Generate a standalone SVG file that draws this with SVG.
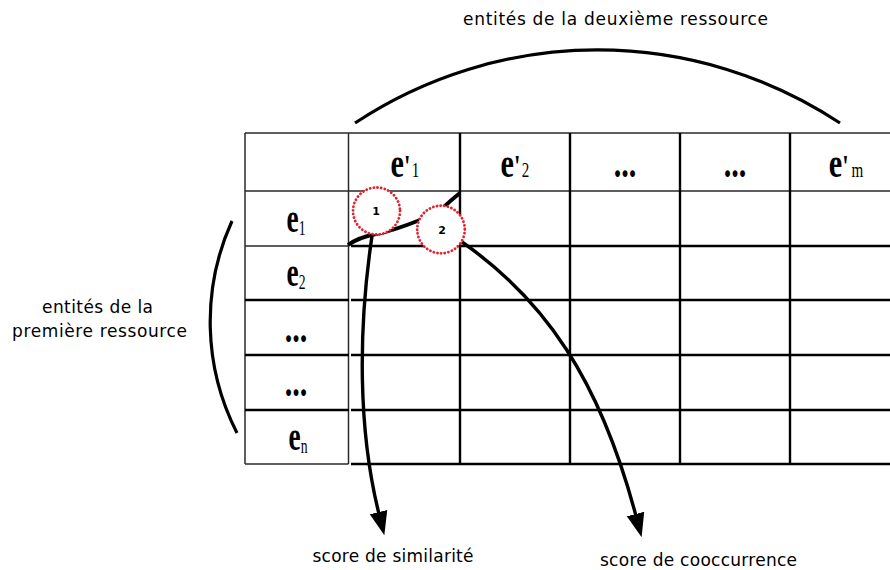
<svg xmlns="http://www.w3.org/2000/svg" width="890" height="570" viewBox="0 0 890 570">
<style>
.thin{stroke:#2a2a2a;stroke-width:1.5;fill:none}
.thick{stroke:#000;stroke-width:2.4;fill:none}
.hd{font-family:"Liberation Serif","Times New Roman",serif;font-weight:bold;font-size:42px;fill:#000;text-anchor:middle}
.sub{font-weight:normal;font-size:21px}
.lbl{font-family:"DejaVu Sans",sans-serif;font-size:17px;fill:#000;text-anchor:middle}
.brace{stroke:#000;stroke-width:3.2;fill:none}
.ring{fill:#fff;stroke:#e8202a;stroke-width:2.8;stroke-dasharray:0.1 3.6;stroke-linecap:round}
.num{font-family:"DejaVu Sans",sans-serif;font-size:11px;font-weight:bold;fill:#000;text-anchor:middle}
.arr{stroke:#000;stroke-width:3.4;fill:none}
</style>
<defs>
<marker id="ah" markerUnits="userSpaceOnUse" markerWidth="24" markerHeight="24" viewBox="0 0 24 24" refX="2" refY="12" orient="auto">
<path d="M0,3 L24,12 L0,21 Z" fill="#000"/>
</marker>
</defs>
<rect width="890" height="570" fill="#fff"/>

<g id="table">
<path class="thin" d="M245,133 H890 M245,191 H890 M245,246 H348.5 M245,464 H348.5 M245,133 V464 M348.5,133 V464"/>
<path class="thick" d="M460,133 V464 M570,133 V464 M680,133 V464 M790,133 V464 M351,246 H890 M351,300 H890 M351,355 H890 M351,410 H890 M351,464 H890 M245,300 H349 M245,355 H349 M245,410 H349"/>
</g>

<g id="col-e1"><text class="hd" transform="translate(405,177) scale(0.72,1)">e<tspan font-size="32">'</tspan><tspan class="sub" dx="2">1</tspan></text></g>
<g id="col-e2"><text class="hd" transform="translate(515,177) scale(0.72,1)">e<tspan font-size="32">'</tspan><tspan class="sub" dx="2">2</tspan></text></g>
<g id="col-dots1"><text class="hd" transform="translate(625,177) scale(0.72,1)" font-size="32">...</text></g>
<g id="col-dots2"><text class="hd" transform="translate(735,177) scale(0.72,1)" font-size="32">...</text></g>
<g id="col-em"><text class="hd" transform="translate(846,177) scale(0.72,1)">e<tspan font-size="32">'</tspan><tspan class="sub" dx="4" font-size="27">m</tspan></text></g>

<g id="row-e1"><text class="hd" transform="translate(296,232) scale(0.65,1)" font-size="40">e<tspan class="sub" font-size="19" dy="3">1</tspan></text></g>
<g id="row-e2"><text class="hd" transform="translate(296,286) scale(0.65,1)" font-size="40">e<tspan class="sub" font-size="19" dy="3">2</tspan></text></g>
<g id="row-dots1"><text class="hd" transform="translate(296,342) scale(0.72,1)" font-size="30">...</text></g>
<g id="row-dots2"><text class="hd" transform="translate(296,396) scale(0.72,1)" font-size="30">...</text></g>
<g id="row-en"><text class="hd" transform="translate(298,450) scale(0.65,1)" font-size="40">e<tspan class="sub" font-size="27" dy="3">n</tspan></text></g>

<g id="braces">
<path class="brace" d="M355,123 A439,439 0 0 1 840,123"/>
<path class="brace" d="M232,221 A244,244 0 0 0 237,433"/>
</g>

<g id="connectors">
<path d="M348,245 C356,239 366,236 376,234 C392,231 405,226 420,220 M444,207 C450,201 455,197 460,193" stroke="#000" stroke-width="4" fill="none"/>
<path class="arr" d="M372,236 C358,330 358,430 379,514" marker-end="url(#ah)"/>
<path class="arr" d="M462,242 C545,300 600,380 636,516" marker-end="url(#ah)"/>
</g>

<g id="circle-1"><circle class="ring" cx="376.5" cy="211" r="23.5"/><text class="num" x="376" y="215">1</text></g>
<g id="circle-2"><circle class="ring" cx="441" cy="229.5" r="23.8"/><text class="num" x="442" y="234">2</text></g>

<g id="label-top"><text class="lbl" x="615.5" y="25" textLength="305" lengthAdjust="spacing">entités de la deuxième ressource</text></g>
<g id="label-left">
<text class="lbl" x="97.5" y="313" textLength="111" lengthAdjust="spacing">entités de la</text>
<text class="lbl" x="99.5" y="337" textLength="175" lengthAdjust="spacing">première ressource</text>
</g>
<g id="label-sim"><text class="lbl" x="393" y="562" textLength="161" lengthAdjust="spacing">score de similarité</text></g>
<g id="label-cooc"><text class="lbl" x="698.5" y="566" textLength="197" lengthAdjust="spacing">score de cooccurrence</text></g>
</svg>
